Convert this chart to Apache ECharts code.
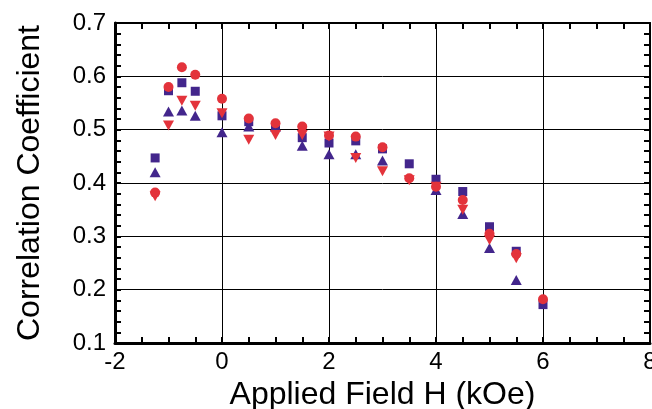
<!DOCTYPE html>
<html><head><meta charset="utf-8">
<script src="https://cdn.jsdelivr.net/npm/echarts@6/dist/echarts.min.js"></script>
<style>html,body{margin:0;padding:0;background:#fff}#c{width:652px;height:409px}</style>
</head><body><div id="c"></div>
<script>
const fieldH = [-1.25,-1,-0.75,-0.5,0,0.5,1,1.5,2,2.5,3,3.5,4,4.5,5,5.5,6];
const redCircle = [0.382,0.580,0.617,0.603,0.558,0.521,0.512,0.506,0.489,0.487,0.467,0.409,0.393,0.368,0.305,0.267,0.182];
const redDownTri = [0.375,0.508,0.554,0.545,0.531,0.481,0.490,0.490,0.487,0.447,0.422,0.405,0.393,0.350,0.293,0.259,null];
const purpleSquare = [0.447,0.573,0.588,0.572,0.526,0.515,0.507,0.485,0.475,0.479,0.464,0.436,0.407,0.384,0.318,0.272,0.172];
const purpleUpTri = [0.420,0.534,0.536,0.526,0.495,0.506,0.506,0.470,0.454,0.454,0.442,null,0.387,0.342,0.278,0.218,null];
const xTicks = [-2,0,2,4,6,8];
const yTicks = [0.1,0.2,0.3,0.4,0.5,0.6,0.7];

const RED = '#e3333b', PURPLE = '#43268c';
function pts(ys){ const out=[]; ys.forEach((y,i)=>{ if(y!==null) out.push([fieldH[i], y]); }); return out; }

const font = 'Liberation Sans, Arial, Helvetica, sans-serif';
const chart = echarts.init(document.getElementById('c'));
function tick(){ return {show:true, inside:true, length:6, lineStyle:{color:'#000', width:2}}; }
function minor(n){ return {show:true, splitNumber:n, length:6, lineStyle:{color:'#000', width:2}}; }
chart.setOption({
  animation:false,
  backgroundColor:'#fff',
  grid:{left:115, right:2, top:23, bottom:66, containLabel:false, outerBoundsMode:'none'},
  xAxis:[{
    type:'value', min:-2, max:8, interval:2, position:'bottom',
    name:'Applied Field H (kOe)', nameLocation:'middle', nameGap:20,
    nameTextStyle:{fontFamily:font, fontSize:32, color:'#000'},
    axisLine:{show:true, onZero:false, lineStyle:{color:'#000', width:3}},
    axisTick:tick(),
    minorTick:minor(4),
    splitLine:{show:true, lineStyle:{color:'#000', width:1}},
    axisLabel:{fontFamily:font, fontSize:24, color:'#000', margin:7,
      formatter:v=>xTicks.includes(v)?String(v):''}
  },{
    type:'value', min:-2, max:8, interval:2, position:'top',
    axisLine:{show:true, onZero:false, lineStyle:{color:'#000', width:2}},
    axisTick:tick(),
    minorTick:minor(4),
    splitLine:{show:false}, axisLabel:{show:false}
  }],
  yAxis:[{
    type:'value', min:0.1, max:0.7, interval:0.1, position:'left',
    name:'Correlation Coefficient', nameLocation:'middle', nameGap:69, nameRotate:90,
    nameTextStyle:{fontFamily:font, fontSize:32, color:'#000'},
    axisLine:{show:true, onZero:false, lineStyle:{color:'#000', width:3}},
    axisTick:tick(),
    minorTick:minor(5),
    splitLine:{show:true, lineStyle:{color:'#000', width:1}},
    axisLabel:{fontFamily:font, fontSize:24, color:'#000', margin:9,
      formatter:v=>{const t=yTicks.find(k=>Math.abs(k-v)<1e-9); return t!==undefined?t.toFixed(1):'';}}
  },{
    type:'value', min:0.1, max:0.7, interval:0.1, position:'right',
    axisLine:{show:true, onZero:false, lineStyle:{color:'#000', width:2}},
    axisTick:tick(),
    minorTick:minor(5),
    splitLine:{show:false}, axisLabel:{show:false}
  }],
  series:[
    {type:'scatter', name:'square', data:pts(purpleSquare), symbol:'rect', symbolSize:9, itemStyle:{color:PURPLE, opacity:1}, z:2},
    {type:'scatter', name:'upTri', data:pts(purpleUpTri), symbol:'triangle', symbolSize:[11,10], itemStyle:{color:PURPLE, opacity:1}, z:3},
    {type:'scatter', name:'circle', data:pts(redCircle), symbol:'circle', symbolSize:10, itemStyle:{color:RED, opacity:1}, z:4},
    {type:'scatter', name:'downTri', data:pts(redDownTri), symbol:'triangle', symbolRotate:180, symbolSize:[11,10], itemStyle:{color:RED, opacity:1}, z:5}
  ]
});
</script></body></html>
